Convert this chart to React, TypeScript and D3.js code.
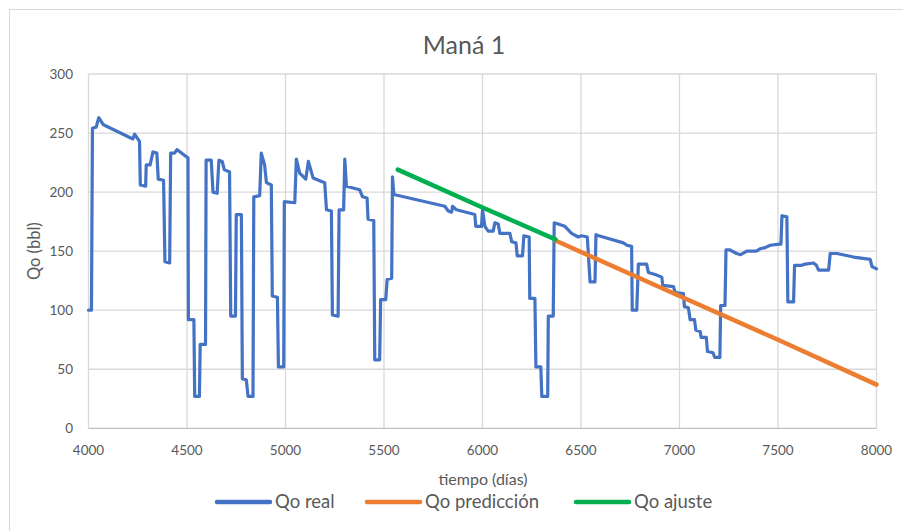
import React, { useEffect, useRef } from 'react';
import * as d3 from 'd3';

// Qo real (blue)
const realDays = [
  4000, 4015, 4020, 4039, 4052, 4076, 4225, 4234, 4259, 4263, 4290, 4293, 4313, 4327, 4347, 4354, 4381, 4388, 4412, 4417,
  4437, 4449, 4480, 4505, 4507, 4535, 4539, 4563, 4567, 4594, 4597, 4623, 4632, 4653, 4662, 4679, 4689, 4716, 4722, 4746,
  4750, 4776, 4781, 4801, 4810, 4835, 4839, 4869, 4877, 4894, 4903, 4928, 4933, 4959, 4964, 4991, 4994, 5047, 5055, 5072,
  5103, 5116, 5140, 5199, 5208, 5233, 5238, 5267, 5272, 5295, 5301, 5309, 5376, 5391, 5414, 5419, 5448, 5453, 5478, 5483,
  5509, 5516, 5539, 5543, 5550, 5809, 5826, 5843, 5848, 5868, 5961, 5966, 5995, 6000, 6012, 6029, 6054, 6063, 6080, 6088,
  6139, 6148, 6170, 6176, 6203, 6210, 6237, 6240, 6266, 6271, 6296, 6301, 6331, 6334, 6359, 6364, 6384, 6418, 6435, 6452,
  6486, 6503, 6532, 6546, 6571, 6576, 6590, 6715, 6733, 6757, 6760, 6783, 6791, 6833, 6842, 6880, 6910, 6915, 6969, 6978,
  7020, 7025, 7045, 7054, 7076, 7083, 7105, 7110, 7136, 7142, 7170, 7179, 7205, 7209, 7231, 7236, 7256, 7290, 7310, 7342,
  7390, 7409, 7435, 7460, 7508, 7515, 7520, 7545, 7550, 7579, 7584, 7620, 7638, 7680, 7695, 7706, 7757, 7765, 7799, 7884,
  7968, 7977, 8000,
];
const realQo = [
  100, 100, 254, 255, 263, 257, 245, 249, 243, 206, 205, 223, 223, 234, 233, 211, 210, 141, 140, 233,
  233, 236, 232, 229, 92, 92, 27, 27, 71, 71, 227, 227, 200, 199, 227, 226, 219, 217, 95, 95,
  181, 181, 42, 41, 27, 27, 196, 197, 233, 223, 208, 206, 112, 111, 52, 52, 192, 191, 228, 216,
  211, 226, 212, 208, 185, 184, 96, 95, 185, 185, 228, 205, 202, 196, 195, 177, 176, 58, 58, 109,
  109, 126, 127, 213, 198, 188, 184, 183, 188, 185, 181, 171, 171, 185, 171, 167, 167, 174, 173, 165,
  165, 158, 157, 146, 146, 163, 162, 110, 110, 52, 52, 27, 27, 95, 95, 174, 173, 171, 168, 165,
  162, 163, 162, 124, 124, 164, 163, 157, 155, 154, 100, 100, 139, 139, 132, 130, 128, 121, 120, 115,
  114, 103, 102, 92, 92, 83, 82, 77, 77, 65, 64, 60, 60, 104, 104, 151, 151, 148, 147, 150,
  150, 152, 153, 155, 156, 156, 180, 179, 107, 107, 138, 138, 139, 140, 138, 134, 134, 148, 148, 145,
  143, 137, 135,
];

// Qo predicción (orange)
const predDays = [6370, 7000, 7500, 8000];
const predQo = [159, 112, 75, 37];

// Qo ajuste (green)
const fitDays = [5570, 6000, 6370];
const fitQo = [219, 187, 160];

const xTicks = [4000, 4500, 5000, 5500, 6000, 6500, 7000, 7500, 8000];
const yTicks = [0, 50, 100, 150, 200, 250, 300];

const seriesNames = ['Qo real', 'Qo predicción', 'Qo ajuste'];
const seriesColors = ['#4472C4', '#ED7D31', '#00B050'];

const W = 903;
const H = 531;
const FONT = 'Lato, "Open Sans", sans-serif';

export default function App() {
  const ref = useRef<SVGSVGElement>(null);

  useEffect(() => {
    const svg = d3.select(ref.current);
    svg.selectAll('*').remove();

    const x = d3.scaleLinear().domain([4000, 8000]).range([88.5, 876.5]);
    const y = d3.scaleLinear().domain([0, 300]).range([428.3, 74]);

    svg.append('rect').attr('width', W).attr('height', H).attr('fill', '#fff');
    // chart border (only left and top visible)
    svg.append('rect')
      .attr('x', 9.5).attr('y', 9.5).attr('width', W).attr('height', H)
      .attr('fill', 'none').attr('stroke', '#D9D9D9');

    // gridlines
    svg.append('g').selectAll('line').data(xTicks).enter().append('line')
      .attr('x1', d => x(d)).attr('x2', d => x(d))
      .attr('y1', y(0)).attr('y2', y(300))
      .attr('stroke', '#D9D9D9').attr('stroke-width', 1.3);
    svg.append('g').selectAll('line').data(yTicks).enter().append('line')
      .attr('x1', x(4000)).attr('x2', x(8000))
      .attr('y1', d => y(d)).attr('y2', d => y(d))
      .attr('stroke', d => (d === 0 ? '#BFBFBF' : '#D9D9D9')).attr('stroke-width', 1.3);

    // tick labels
    svg.append('g').selectAll('text').data(yTicks).enter().append('text')
      .attr('x', 73).attr('y', d => y(d)).attr('dy', '0.35em')
      .attr('text-anchor', 'end').attr('font-family', FONT).attr('font-size', 13.5)
      .attr('fill', '#595959').text(d => d);
    svg.append('g').selectAll('text').data(xTicks).enter().append('text')
      .attr('x', d => x(d)).attr('y', 450).attr('dy', '0.35em')
      .attr('text-anchor', 'middle').attr('font-family', FONT).attr('font-size', 13.5)
      .attr('fill', '#595959').text(d => d);

    // titles
    svg.append('text').attr('x', 464).attr('y', 45).attr('dy', '0.35em')
      .attr('text-anchor', 'middle').attr('font-family', FONT).attr('font-size', 25)
      .attr('fill', '#595959').text('Maná 1');
    svg.append('text').attr('x', 483).attr('y', 479).attr('dy', '0.35em')
      .attr('text-anchor', 'middle').attr('font-family', FONT).attr('font-size', 16)
      .attr('fill', '#595959').text('tiempo (días)');
    svg.append('text')
      .attr('transform', `translate(34,${(y(0) + y(300)) / 2}) rotate(-90)`)
      .attr('dy', '0.35em')
      .attr('text-anchor', 'middle').attr('font-family', FONT).attr('font-size', 16.5)
      .attr('fill', '#595959').text('Qo (bbl)');

    const line = d3.line<[number, number]>().x(d => x(d[0])).y(d => y(d[1]));

    const series: [number[], number[], number][] = [
      [realDays, realQo, 3.2],
      [predDays, predQo, 4.5],
      [fitDays, fitQo, 4.5],
    ];
    series.forEach(([days, vals, w], i) => {
      const pts = days.map((d, j) => [d, vals[j]] as [number, number]);
      svg.append('path').attr('d', line(pts) as string)
        .attr('fill', 'none').attr('stroke', seriesColors[i]).attr('stroke-width', w)
        .attr('stroke-linejoin', 'round').attr('stroke-linecap', 'round');
    });

    // legend
    const legendX = [217, 367, 576];
    const lg = svg.append('g');
    seriesNames.forEach((name, i) => {
      lg.append('line')
        .attr('x1', legendX[i]).attr('x2', legendX[i] + 53)
        .attr('y1', 502).attr('y2', 502)
        .attr('stroke', seriesColors[i]).attr('stroke-width', 4.5).attr('stroke-linecap', 'round');
      lg.append('text')
        .attr('x', legendX[i] + 58).attr('y', 502).attr('dy', '0.35em')
        .attr('font-family', FONT).attr('font-size', 18.5)
        .attr('fill', '#595959').text(name);
    });
  }, []);

  return (
    <svg ref={ref} width={W} height={H} style={{ position: 'absolute', left: 0, top: 0 }} />
  );
}
